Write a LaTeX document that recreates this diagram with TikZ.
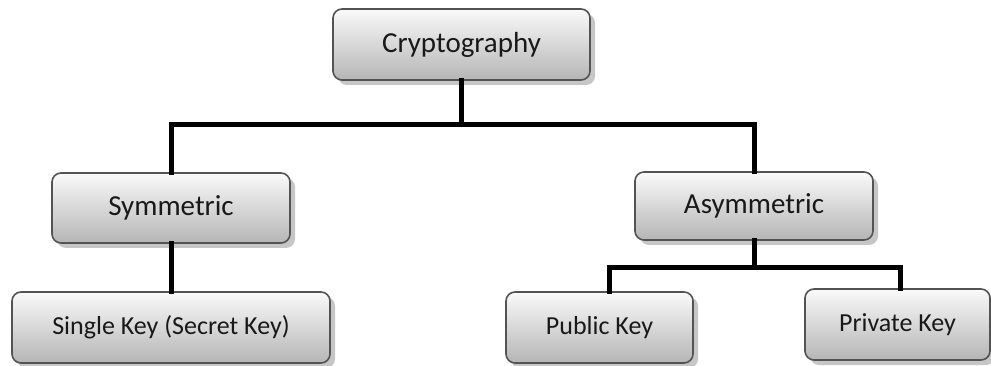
\documentclass[tikz,border=0pt]{standalone}
\usepackage{fontspec}
\setmainfont{Carlito}
\usetikzlibrary{shadows}
\begin{document}
\begin{tikzpicture}[x=1pt,y=-1pt,
  box/.style={draw=gray!65!black, line width=1.6pt, rounded corners=9pt,
    top color=gray!4, bottom color=gray!58, inner sep=0pt, text=black!90,
    drop shadow={shadow xshift=5pt, shadow yshift=-5pt, fill=gray!45, opacity=1}},
  bigtext/.style={font=\fontsize{29}{32}\selectfont},
  smalltext/.style={font=\fontsize{26}{30}\selectfont},
  conn/.style={line width=5pt, black, line cap=rect}]
\useasboundingbox (0,0) rectangle (991,366);
\node[box, bigtext, minimum width=257pt, minimum height=71pt] (crypto) at (461.5,44.5) {Cryptography};
\node[box, bigtext, minimum width=238pt, minimum height=70pt] (sym) at (171,208) {Symmetric};
\node[box, bigtext, minimum width=238pt, minimum height=68pt] (asym) at (754,206) {Asymmetric};
\node[box, smalltext, minimum width=318pt, minimum height=71pt] (single) at (171,327.5) {Single Key (Secret Key)};
\node[box, smalltext, minimum width=187pt, minimum height=71pt] (pub) at (599.5,327.5) {Public Key};
\node[box, smalltext, minimum width=185pt, minimum height=71pt] (priv) at (897.5,324.5) {Private Key};
\coordinate (bus1) at (463,125);
\coordinate (b2l) at (609,268);
\coordinate (b2r) at (900,268);
\draw[conn] (crypto.south) -- (crypto.south |- bus1);
\draw[conn] (sym.north) |- (bus1) -| (asym.north);
\draw[conn] (sym.south) -- (single.north);
\draw[conn] (asym.south) -- (asym.south |- b2l);
\draw[conn] (b2l |- pub.north) -- (b2l) -- (b2r) -- (b2r |- priv.north);
\end{tikzpicture}
\end{document}
